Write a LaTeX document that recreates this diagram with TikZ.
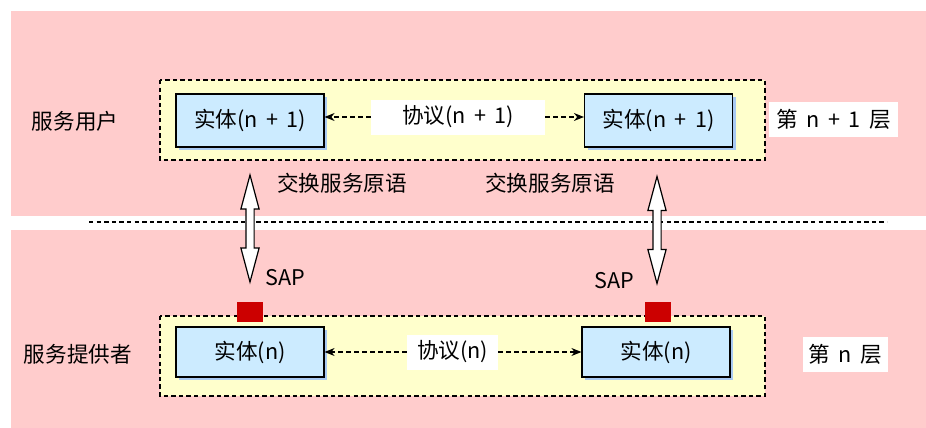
\documentclass[tikz,border=0pt]{standalone}
\usepackage{fontspec}
\setmainfont[WordSpace=1.75]{Noto Sans CJK SC}
\usetikzlibrary{arrows.meta,shapes.arrows,shadows}

\definecolor{bandpink}{HTML}{FFCCCC}
\definecolor{layeryellow}{HTML}{FFFFCC}
\definecolor{entblue}{HTML}{CCEBFF}
\definecolor{entshadow}{HTML}{A9C9F2}
\definecolor{sapred}{HTML}{CC0000}

\tikzset{
  entity/.style={draw, line width=0.6pt, fill=entblue, minimum width=74pt, inner sep=0pt,
    drop shadow={fill=entshadow, opacity=1, shadow xshift=1.7pt, shadow yshift=-1.7pt}},
  tag/.style={fill=white, inner sep=0pt, minimum height=17.5pt},
  proto/.style={dash pattern=on 2.4pt off 1.6pt, line width=0.6pt, -{Stealth[length=5pt,width=4pt]}},
  layerbox/.style={draw, dash pattern=on 2.2pt off 1.6pt, line width=0.6pt, fill=layeryellow},
  sapbox/.style={fill=sapred, minimum width=13pt, minimum height=10pt, inner sep=0pt},
  sapflow/.style={draw, line width=0.6pt, fill=white, shape=double arrow, rotate=90,
    minimum height=53.5pt, minimum width=8.5pt, inner sep=1.75pt,
    double arrow head extend=2.5pt, double arrow tip angle=30}
}

\begin{document}
\begin{tikzpicture}[x=0.5pt,y=-0.5pt,font=\fontsize{10.8}{13}\selectfont]
\useasboundingbox (0,0) rectangle (926,428);
% two layers
\fill[bandpink] (11,11) rectangle (926,216);
\fill[bandpink] (11,230) rectangle (926,428);
\draw[dash pattern=on 2.2pt off 1.6pt, line width=0.6pt] (89,222) -- (887,222);
\draw[layerbox] (160,80) rectangle (765,160);
\draw[layerbox] (160,316) rectangle (765,396);

% layer n+1
\node (userL) at (75,121) {服务用户};
\node[entity, minimum height=26.5pt] (entUL) at (250,120.5) {实体(n + 1)};
\node[entity, minimum height=26.5pt] (entUR) at (658.5,120.5) {实体(n + 1)};
\node[tag, minimum width=87pt] (protoU) at (458,117) {协议(n + 1)};
\node[tag, minimum width=64.5pt] (layerU) at (833.5,119.5) {第 n + 1 层};
\draw[proto] (protoU.west) -- (protoU.west -| entUL.east);
\draw[proto] (protoU.east) -- (protoU.east -| entUR.west);

% layer n
\node (userN) at (78,354) {服务提供者};
\node[entity, minimum height=25pt] (entNL) at (250,352) {实体(n)};
\node[entity, minimum height=25pt] (entNR) at (656,352) {实体(n)};
\node[tag, minimum width=45.5pt] (protoN) at (452.5,352) {协议(n)};
\node[tag, minimum width=42.5pt] (layerN) at (845,354) {第 n 层};
\draw[proto] (protoN.west) -- (protoN.west -| entNL.east);
\draw[proto] (protoN.east) -- (protoN.east -| entNR.west);

% service access points
\foreach \x/\nm in {250/L,657.5/R} {
  \node[sapbox] (sap\nm) at (\x,312) {};
}
\node (sapTxtL) at (285,278) {SAP};
\node (sapTxtR) at (614,281) {SAP};
\node (primL) at (342,183) {交换服务原语};
\node (primR) at (550,183) {交换服务原语};
\node[sapflow] (flowL) at (250,228.5) {};
\node[sapflow] (flowR) at (657,230) {};
\end{tikzpicture}
\end{document}
